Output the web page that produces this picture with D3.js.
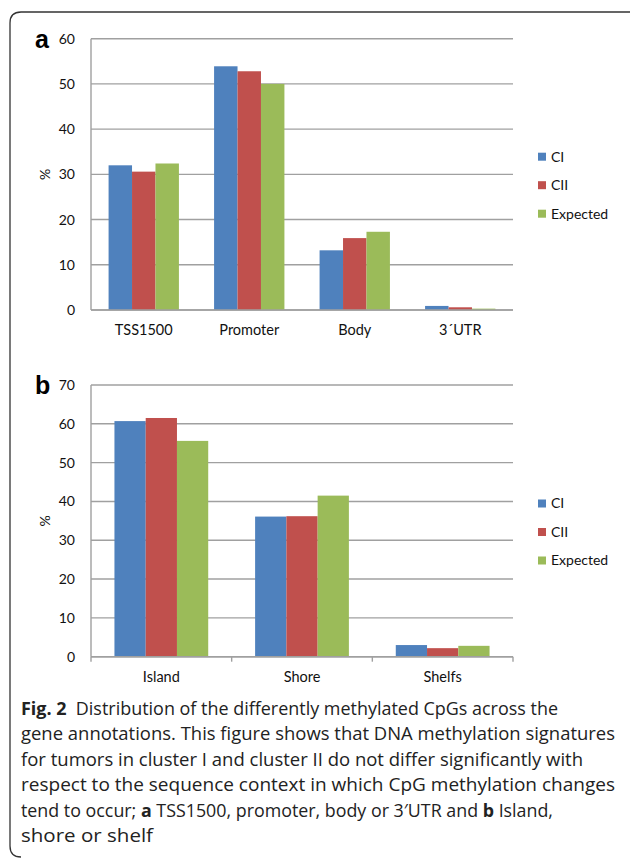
<!DOCTYPE html>
<html>
<head>
<meta charset="UTF-8">
<title>Fig. 2 Distribution of methylated CpGs</title>
<script src="https://d3js.org/d3.v7.min.js"></script>
<style>
  body { margin: 0; background: #fff; }
  svg text { font-family: Lato, "Open Sans", sans-serif; }
</style>
</head>
<body>
<div id="chart"></div>
<script>
// data
const seriesNames = ["CI", "CII", "Expected"];
const colors = ["#4F81BD", "#C0504D", "#9BBB59"];

const catsA = ["TSS1500", "Promoter", "Body", "3\u00B4UTR"];
const ciA = [32.0, 53.9, 13.2, 0.9];
const ciiA = [30.6, 52.8, 15.9, 0.6];
const expA = [32.4, 50.0, 17.3, 0.3];
const ticksA = [0, 10, 20, 30, 40, 50, 60];

const catsB = ["Island", "Shore", "Shelfs"];
const ciB = [60.7, 36.1, 3.0];
const ciiB = [61.5, 36.2, 2.2];
const expB = [55.6, 41.5, 2.8];
const ticksB = [0, 10, 20, 30, 40, 50, 60, 70];

const captionLines = [
  [["Fig. 2", true], ["  Distribution of the differently methylated CpGs across the", false]],
  [["gene annotations. This figure shows that DNA methylation signatures", false]],
  [["for tumors in cluster I and cluster II do not differ significantly with", false]],
  [["respect to the sequence context in which CpG methylation changes", false]],
  [["tend to occur; ", false], ["a", true], [" TSS1500, promoter, body or 3\u2032UTR and ", false], ["b", true], [" Island,", false]],
  [["shore or shelf", false]]
];
const captionWidths = [537, 594, 562, 594, 532, 132];

const svg = d3.select("#chart").append("svg")
  .attr("width", 630).attr("height", 860);

// frame with rounded top-left and bottom-left corners
svg.append("path")
  .attr("d", "M632,12 L21,12 Q10,12 10,23 L10,846 Q10,857 21,857")
  .attr("fill", "none")
  .attr("stroke", "#333")
  .attr("stroke-width", 1.3);

function panel(opt) {
  const x = d3.scaleBand().domain(opt.cats).range([91, 513]).padding(0);
  const inner = d3.scaleBand().domain(seriesNames)
    .range([x.bandwidth() / 6, x.bandwidth() * 5 / 6]).padding(0);
  const y = d3.scaleLinear().domain([0, d3.max(opt.ticks)]).range([opt.bottom, opt.top]);

  const g = svg.append("g");

  // gridlines
  g.selectAll(".grid").data(opt.ticks).enter().append("line")
    .attr("x1", 91).attr("x2", 513)
    .attr("y1", d => y(d)).attr("y2", d => y(d))
    .attr("stroke", "#a0a0a0").attr("stroke-width", 1.4);

  // y axis line
  g.append("line")
    .attr("x1", 91).attr("x2", 91)
    .attr("y1", opt.top).attr("y2", opt.bottom)
    .attr("stroke", "#a0a0a0").attr("stroke-width", 1.4);

  const yAxis = g.append("g")
    .attr("transform", "translate(91,0)")
    .call(d3.axisLeft(y).tickValues(opt.ticks).tickSize(0).tickPadding(16));
  yAxis.select(".domain").remove();
  yAxis.selectAll("text").attr("font-size", 14).attr("fill", "#111")
    .style("font-family", "Lato, sans-serif");

  // bars
  const rows = opt.cats.map((c, i) => ({ cat: c, vals: opt.series.map(s => s[i]) }));
  g.selectAll(".grp").data(rows).enter().append("g")
    .attr("transform", d => "translate(" + x(d.cat) + ",0)")
    .selectAll("rect").data(d => d.vals.map((v, j) => ({ name: seriesNames[j], v: v, c: colors[j] })))
    .enter().append("rect")
    .attr("x", d => inner(d.name))
    .attr("width", inner.bandwidth())
    .attr("y", d => y(d.v))
    .attr("height", d => y(0) - y(d.v))
    .attr("fill", d => d.c);

  // x axis
  const xAxis = g.append("g")
    .attr("transform", "translate(0," + opt.bottom + ")")
    .call(d3.axisBottom(x).tickSize(0).tickPadding(15));
  xAxis.select(".domain").attr("stroke", "#a0a0a0").attr("stroke-width", 1.4)
    .attr("d", "M91,0H513");
  xAxis.selectAll("text").attr("font-size", 14.5).attr("fill", "#111")
    .style("font-family", "Lato, sans-serif");

  if (opt.edgeTicks) {
    const edges = opt.cats.map(c => x(c)).concat([x.range()[1]]);
    g.selectAll(".etick").data(edges).enter().append("line")
      .attr("x1", d => d).attr("x2", d => d)
      .attr("y1", opt.bottom).attr("y2", opt.bottom + 5)
      .attr("stroke", "#a0a0a0").attr("stroke-width", 1.4);
  }

  // y label
  g.append("text")
    .attr("transform", "translate(50," + ((opt.top + opt.bottom) / 2) + ") rotate(-90)")
    .attr("text-anchor", "middle")
    .attr("font-size", 14).attr("fill", "#111")
    .text("%");

  // panel letter
  g.append("text")
    .attr("x", 35).attr("y", opt.top + 9)
    .style("font-family", "'Liberation Sans', Arial, sans-serif")
    .attr("font-weight", "bold").attr("font-size", 25)
    .text(opt.letter);

  // legend
  const leg = g.selectAll(".leg").data(seriesNames).enter().append("g")
    .attr("transform", (d, i) => "translate(538," + (opt.legendY + i * 28.5) + ")");
  leg.append("rect").attr("x", 0).attr("y", -4).attr("width", 8).attr("height", 8)
    .attr("fill", (d, i) => colors[i]);
  leg.append("text").attr("x", 13).attr("y", 0).attr("dy", "0.35em")
    .attr("font-size", 14).attr("fill", "#111").text(d => d);
}

panel({ cats: catsA, series: [ciA, ciiA, expA], ticks: ticksA,
  top: 38.7, bottom: 310, letter: "a", legendY: 156.7, edgeTicks: false });
panel({ cats: catsB, series: [ciB, ciiB, expB], ticks: ticksB,
  top: 385, bottom: 656.7, letter: "b", legendY: 503.5, edgeTicks: true });

// caption
const cap = svg.append("g");
captionLines.forEach((line, i) => {
  const t = cap.append("text")
    .attr("x", 21).attr("y", 715 + i * 25.4)
    .attr("font-size", 17.5).attr("fill", "#222")
    .style("font-family", "'Open Sans', 'Noto Sans', sans-serif")
    .attr("textLength", captionWidths[i])
    .attr("lengthAdjust", "spacingAndGlyphs")
    .attr("xml:space", "preserve");
  line.forEach(seg => {
    t.append("tspan").attr("font-weight", seg[1] ? "bold" : "normal").text(seg[0]);
  });
});
</script>
</body>
</html>
